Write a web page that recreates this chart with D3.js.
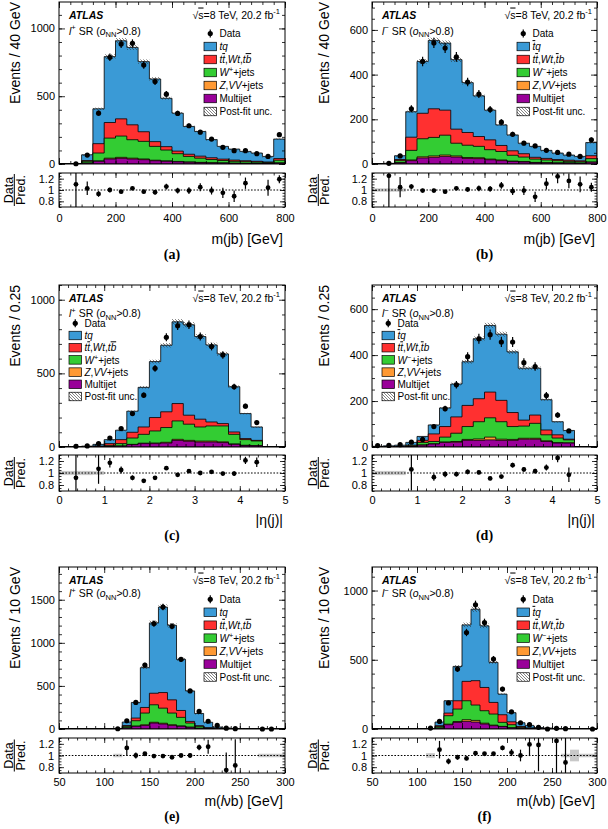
<!DOCTYPE html>
<html><head><meta charset="utf-8">
<script src="https://cdn.jsdelivr.net/npm/d3@7"></script>
<style>body{margin:0;background:#fff}svg{display:block}</style>
</head><body><svg id="c" width="608" height="829"></svg>
<script>
// ---------- bin edges / ticks ----------
const mEdges = [0,40,80,120,160,200,240,280,320,360,400,440,480,520,560,600,640,680,720,760,800];
const etaEdges = [0,0.25,0.5,0.75,1,1.25,1.5,1.75,2,2.25,2.5,2.75,3,3.25,3.5,3.75,4,4.25,4.5,4.75,5];
const mlvbEdges = [50,60,70,80,90,100,110,120,130,140,150,160,170,180,190,200,210,220,230,240,250,260,270,280,290,300];
const mTicks = [0,200,400,600,800];
const etaTicks = [0,1,2,3,4,5];
const mlvbTicks = [50,100,150,200,250,300];
const aYTicks = [0,500,1000];
const bYTicks = [0,200,400,600];
const cYTicks = [0,500,1000];
const dYTicks = [0,200,400,600];
const eYTicks = [0,500,1000,1500];
const fYTicks = [0,500,1000];
const ratioTicks = [0.8,1,1.2];
const postFitUnc = 0.022;

// ---------- (a) l+ m(jb) ----------
const aTq = [0,1,43,257,486,576,571,517,462,357,280,205,182,134,94,81,69,61,41,144];
const aTt = [0,0,5,69,115,127,110,71,35,25,19,16,15,13,10,9,7,6,4,12];
const aW  = [0,1,13,58,148,157,136,130,102,80,57,41,31,24,18,14,12,9,8,20];
const aZ  = [0,0,1,3,6,7,6,5,4,3,3,2,2,1,1,1,1,1,0,1];
const aMj = [0,0,6,20,37,42,37,32,24,20,16,13,10,8,7,5,4,4,3,7];
const aData = [null,2,66,375,787,885,890,730,608,515,373,282,235,184,123,98,98,76,56,216];
const aRatio = [null,1.1,1.03,0.93,1.0,0.97,1.03,0.97,0.96,1.06,0.99,0.99,1.05,0.99,0.95,0.89,1.12,null,1.04,1.19];
const aRatioErr = [0,0.6,0.12,0.05,0.04,0.03,0.03,0.03,0.04,0.05,0.05,0.06,0.07,0.07,0.09,0.1,0.1,0,0.14,0.07];
const aBand = [0,0,0,0,0,0,0,0,0,0,0,0,0,0,0,0,0,0,0,0];

// ---------- (b) l- m(jb) ----------
const bTq = [0,2,17,114,232,306,300,311,223,182,133,92,71,47,49,36,29,23,20,59];
const bTt = [0,0,5,59,114,128,112,63,57,44,44,27,20,15,8,7,5,5,4,13];
const bW  = [0,1,9,43,81,83,89,57,55,51,42,38,26,20,15,12,10,7,6,15];
const bZ  = [0,0,1,3,5,6,6,5,4,4,3,3,2,2,1,1,1,1,1,1];
const bMj = [0,0,5,15,27,30,34,31,25,24,19,15,11,9,6,5,4,4,3,8];
const bData = [null,3,36,247,459,542,519,479,367,313,244,187,133,93,81,61,52,44,34,108];
const bRatio = [null,1.25,1.05,1.06,0.99,0.99,0.97,1.03,1.01,1.03,1.02,1.08,0.98,0.99,0.88,1.11,1.24,1.16,1.1,1.05];
const bRatioErr = [0,0.6,0.18,0.04,0.03,0.03,0.03,0.03,0.04,0.05,0.05,0.06,0.07,0.08,0.09,0.1,0.12,0.13,0.14,0.08];
const bBand = [0.03,0.03,0.03,0,0,0,0,0,0,0,0,0,0,0,0,0,0,0,0,0];

// ---------- (c) l+ |eta(j)| ----------
const cTq = [0,2,4,12,27,64,143,269,380,452,555,614,561,523,473,307,170,91,0,0];
const cTt = [0,0,1,2,12,27,39,50,91,107,118,61,53,27,16,16,7,4,0,0];
const cW  = [0,1,1,3,7,16,43,60,82,100,125,110,96,103,108,65,38,31,0,0];
const cZ  = [0,0,0,0,1,1,2,3,4,5,7,6,6,6,5,3,2,2,0,0];
const cMj = [0,0,0,1,3,6,16,23,23,27,45,39,34,34,30,18,10,8,0,0];
const cData = [null,5,7,23,61,125,227,352,534,745,823,830,750,682,625,409,277,166,null,null];
const cRatio = [null,0.92,null,1.07,1.17,1.05,0.92,0.87,0.92,1.08,0.97,1.03,1.0,1.02,0.99,0.99,1.21,1.18,null,null];
const cRatioErr = [0,0.45,0,0.25,0.08,0.06,0.04,0.03,0.03,0.03,0.02,0.02,0.02,0.03,0.03,0.04,0.06,0.08,0,0];
const cBand = [0.035,0.035,0.035,0.03,0,0,0,0,0,0,0,0,0,0,0,0,0,0,0,0];

// ---------- (d) l- |eta(j)| ----------
const dTq = [2,3,5,12,17,39,81,143,190,261,290,288,264,226,204,132,57,38,0,0];
const dTt = [0,1,1,3,9,33,46,71,92,100,112,93,61,26,36,21,14,3,0,0];
const dW  = [1,1,1,3,11,10,21,36,56,75,84,76,56,53,65,26,20,13,0,0];
const dZ  = [0,0,0,0,1,1,2,3,4,6,12,5,4,4,4,3,2,1,0,0];
const dMj = [0,0,1,2,8,13,20,21,29,29,31,29,29,34,34,24,17,17,0,0];
const dData = [6,7,10,21,33,89,167,271,393,471,489,457,457,367,350,224,139,70,null,null];
const dRatio = [null,null,null,1.06,null,0.93,0.98,0.98,1.02,1.01,0.91,0.94,1.13,1.06,1.03,1.09,1.25,0.97,null,null];
const dRatioErr = [0,0,0,0.35,0,0.06,0.05,0.04,0.04,0.03,0.03,0.03,0.04,0.04,0.04,0.05,0.07,0.12,0,0];
const dBand = [0.035,0.035,0.035,0,0,0,0,0,0,0,0,0,0,0,0,0,0,0,0,0];

// ---------- (e) l+ m(lvb) ----------
const eTq = [0,0,0,0,0,0,3,41,181,462,816,992,866,593,354,142,63,17,9,3,3,1,1,1,0];
const eTt = [0,0,0,0,0,0,1,9,31,65,134,181,153,80,19,7,4,1,1,1,1,1,0,0,0];
const eW  = [0,0,0,0,0,0,1,18,62,137,203,175,136,99,47,22,6,3,1,1,0,0,0,0,0];
const eZ  = [0,0,0,0,0,0,0,1,3,6,9,9,7,5,3,1,1,0,0,0,0,0,0,0,0];
const eMj = [0,0,0,0,0,0,0,12,31,42,69,58,42,31,19,8,4,2,1,0,0,0,0,0,0];
const eData = [null,null,null,null,null,null,3,96,308,742,1223,1415,1192,808,442,204,90,42,9,4,null,null,0,0,null];
const eRatio = [null,null,null,null,null,null,null,1.13,1.0,1.03,0.99,0.99,0.97,1.0,1.0,1.14,1.15,null,0.75,0.83,null,null,null,null,null];
const eRatioErr = [0,0,0,0,0,0,0,0.13,0.05,0.03,0.02,0.02,0.02,0.03,0.04,0.05,0.12,0,0.3,0.45,0,0,0,0,0];
const eBand = [0,0,0,0,0,0,0.03,0,0,0,0,0,0,0,0,0,0,0,0,0,0,0,0.03,0.03,0.03];

// ---------- (f) l- m(lvb) ----------
const fTq = [0,0,0,0,0,0,1,26,89,248,408,516,445,289,149,66,27,18,6,5,3,1,1,0.5,0.3];
const fTt = [0,0,0,0,0,0,0,7,19,60,140,176,168,84,55,21,8,3,2,1,0,1,0,0,0];
const fW  = [0,0,0,0,0,0,1,10,61,90,137,111,90,80,29,22,6,3,1,1,1,0,0,0,0];
const fZ  = [0,0,0,0,0,0,0,1,4,6,12,12,6,4,2,1,1,0,0,0,0,0,0,0,0];
const fMj = [0,0,0,0,0,0,0,6,31,48,55,50,36,24,17,8,3,2,1,0,0,0,0,0,0];
const fData = [null,null,null,null,null,null,7,55,188,433,697,897,769,505,288,124,45,31,12,0,5,2,null,null,0];
const fRatio = [null,null,null,null,null,null,null,1.1,0.9,0.97,0.95,1.04,1.03,1.03,1.13,1.05,1.0,1.19,1.18,null,1.25,0.88,null,null,null];
const fRatioErr = [0,0,0,0,0,0,0,0.15,0.05,0.04,0.03,0.03,0.03,0.03,0.04,0.06,0.1,0.2,0.45,0,0.6,0.6,0,0,0];
const fBand = [0,0,0,0,0,0,0.04,0,0,0,0,0,0,0,0,0,0,0,0,0,0,0.03,0.1,0.03,0.03];

// ---------- style / layout ----------
const FONT = '"Liberation Sans", Arial, Helvetica, sans-serif';
const colors = {tq:"#3a9ad6", tt:"#ff3030", w:"#33cc33", z:"#ff9933", mj:"#990099"};
const ratioDom = [0.7,1.3];
const rows = [
  {top:2,   mb:164, rt:173, rb:207, labPad:7, xTitleY:243.5, capY:258.5},
  {top:285, mb:447, rt:455, rb:491, labPad:5, xTitleY:524.5, capY:539.5},
  {top:567, mb:729, rt:738, rb:773, labPad:5, xTitleY:806,   capY:821}
];
const cols = [
  {x0:59,  x1:285, yTitleX:19.5, dataX:12.5,  predX:25,  fracX:14.3},
  {x0:372, x1:597, yTitleX:329,  dataX:316.5, predX:329, fracX:318.3}
];

const panels = [
  {id:"a",row:0,col:0,edges:mEdges,xDom:[0,800],xTicks:mTicks,xMinor:40,yMax:1195,yTicks:aYTicks,yMinor:100,
   tq:aTq,tt:aTt,w:aW,z:aZ,mj:aMj,data:aData,ratio:aRatio,rerr:aRatioErr,band:aBand,
   yTitle:"Events / 40 GeV",xTitle:[{t:"m(jb) [GeV]"}],neg:false,legX:145,legY:31.5,legDy:13,srY:32.5,cap:"(a)"},
  {id:"b",row:0,col:1,edges:mEdges,xDom:[0,800],xTicks:mTicks,xMinor:40,yMax:725,yTicks:bYTicks,yMinor:50,
   tq:bTq,tt:bTt,w:bW,z:bZ,mj:bMj,data:bData,ratio:bRatio,rerr:bRatioErr,band:bBand,
   yTitle:"Events / 40 GeV",xTitle:[{t:"m(jb) [GeV]"}],neg:true,legX:145,legY:31.5,legDy:13,srY:32.5,cap:"(b)"},
  {id:"c",row:1,col:0,edges:etaEdges,xDom:[0,5],xTicks:etaTicks,xMinor:0.2,yMax:1100,yTicks:cYTicks,yMinor:100,
   tq:cTq,tt:cTt,w:cW,z:cZ,mj:cMj,data:cData,ratio:cRatio,rerr:cRatioErr,band:cBand,
   yTitle:"Events / 0.25",xTitle:[{t:"|\u03B7(j)|"}],neg:false,legX:10,legY:38.3,legDy:12.2,srY:32,cap:"(c)"},
  {id:"d",row:1,col:1,edges:etaEdges,xDom:[0,5],xTicks:etaTicks,xMinor:0.2,yMax:705,yTicks:dYTicks,yMinor:50,
   tq:dTq,tt:dTt,w:dW,z:dZ,mj:dMj,data:dData,ratio:dRatio,rerr:dRatioErr,band:dBand,
   yTitle:"Events / 0.25",xTitle:[{t:"|\u03B7(j)|"}],neg:true,legX:10,legY:38.3,legDy:12.2,srY:32,cap:"(d)"},
  {id:"e",row:2,col:0,edges:mlvbEdges,xDom:[50,300],xTicks:mlvbTicks,xMinor:10,yMax:1880,yTicks:eYTicks,yMinor:100,
   tq:eTq,tt:eTt,w:eW,z:eZ,mj:eMj,data:eData,ratio:eRatio,rerr:eRatioErr,band:eBand,
   yTitle:"Events / 10 GeV",xTitle:[{t:"m("},{t:"l",i:true},{t:"\u03BDb) [GeV]"}],neg:false,legX:145,legY:32.3,legDy:12.95,srY:30,cap:"(e)"},
  {id:"f",row:2,col:1,edges:mlvbEdges,xDom:[50,300],xTicks:mlvbTicks,xMinor:10,yMax:1170,yTicks:fYTicks,yMinor:100,
   tq:fTq,tt:fTt,w:fW,z:fZ,mj:fMj,data:fData,ratio:fRatio,rerr:fRatioErr,band:fBand,
   yTitle:"Events / 10 GeV",xTitle:[{t:"m("},{t:"l",i:true},{t:"\u03BDb) [GeV]"}],neg:true,legX:145,legY:32.3,legDy:12.95,srY:30,cap:"(f)"}
];

const svg = d3.select("#c").attr("font-family", FONT);
svg.append("rect").attr("width",608).attr("height",829).attr("fill","#fff");
const defs = svg.append("defs");
const pat = defs.append("pattern").attr("id","hatch").attr("patternUnits","userSpaceOnUse").attr("width",3).attr("height",3);
pat.append("path").attr("d","M-1,-1L4,4M-1,2L1,4M2,-1L4,1").attr("stroke","#333").attr("stroke-width",0.6).attr("fill","none");

function rich(t, segs, fs){
  let shift = 0;
  segs.forEach(s=>{
    const ts = t.append("tspan").text(s.t);
    let target = 0;
    if (s.sup){ target = -fs*0.4; ts.attr("font-size", fs*0.72); }
    if (s.sub){ target = fs*0.28; ts.attr("font-size", fs*0.72); }
    if (target !== shift){ ts.attr("dy", target-shift); shift = target; }
    if (s.i) ts.attr("font-style","italic");
    if (s.ov) ts.attr("text-decoration","overline");
  });
  return t;
}

function minorVals(dom, step){
  const out = [];
  for (let k = 0; ; k++){ const v = +(dom[0] + k*step).toFixed(6); if (v > dom[1]+1e-9) break; out.push(v); }
  return out;
}

function drawAxis(gen, scale, vals, size, withLabels, fmt, pad, tx, ty, fs){
  const a = gen(scale).tickValues(vals).tickSize(-size).tickPadding(pad);
  a.tickFormat(withLabels ? fmt : "");
  const g = svg.append("g").attr("transform", `translate(${tx},${ty})`).call(a);
  g.select(".domain").remove();
  g.attr("font-family", FONT).attr("font-size", fs);
  g.selectAll("line").attr("stroke","#000").attr("stroke-width",0.8);
  g.selectAll("text").attr("fill","#000");
  return g;
}

function drawPanel(p){
  const col = cols[p.col], row = rows[p.row];
  const e = p.edges, n = e.length-1;
  const x = d3.scaleLinear().domain(p.xDom).range([col.x0, col.x1]);
  const y = d3.scaleLinear().domain([0, p.yMax]).range([row.mb, row.top]);
  const yr = d3.scaleLinear().domain(ratioDom).range([row.rb, row.rt]);
  const cm = "cm"+p.id, cr = "cr"+p.id;
  defs.append("clipPath").attr("id",cm).append("rect").attr("x",col.x0).attr("y",row.top).attr("width",col.x1-col.x0).attr("height",row.mb-row.top);
  defs.append("clipPath").attr("id",cr).append("rect").attr("x",col.x0).attr("y",row.rt).attr("width",col.x1-col.x0).attr("height",row.rb-row.rt);

  // stack
  const gm = svg.append("g").attr("clip-path",`url(#${cm})`);
  const procs = [{v:p.mj,c:colors.mj},{v:p.z,c:colors.z},{v:p.w,c:colors.w},{v:p.tt,c:colors.tt},{v:p.tq,c:colors.tq}];
  let cum = new Array(n).fill(0); const cums = [];
  procs.forEach(pr=>{ cum = cum.map((c,i)=>c+pr.v[i]); cums.push({vals:cum.slice(), c:pr.c}); });
  const step = vals=>{
    let d = `M${x(e[0])},${y(0)}`;
    for (let i=0;i<n;i++){ d += `L${x(e[i])},${y(vals[i])}L${x(e[i+1])},${y(vals[i])}`; }
    return d + `L${x(e[n])},${y(0)}Z`;
  };
  for (let k=cums.length-1;k>=0;k--){
    gm.append("path").attr("d",step(cums[k].vals)).attr("fill",cums[k].c).attr("stroke","#000").attr("stroke-width",0.8);
  }
  const total = cums[cums.length-1].vals;
  total.forEach((t,i)=>{
    if (t <= 0) return;
    const y1 = y(t*(1+postFitUnc)), y2 = y(t*(1-postFitUnc));
    gm.append("rect").attr("x",x(e[i])).attr("width",x(e[i+1])-x(e[i])).attr("y",y1).attr("height",Math.max(y2-y1,1.5)).attr("fill","url(#hatch)");
  });
  // data
  const gd = svg.append("g");
  p.data.forEach((d,i)=>{
    if (d == null) return;
    const cx = (x(e[i])+x(e[i+1]))/2, s = Math.sqrt(d);
    gd.append("line").attr("x1",cx).attr("x2",cx).attr("y1",y(d+s)).attr("y2",y(Math.max(0,d-s))).attr("stroke","#000").attr("stroke-width",1.2);
    gd.append("circle").attr("cx",cx).attr("cy",y(d)).attr("r",2.6).attr("fill","#000");
  });

  // ratio
  const gr = svg.append("g").attr("clip-path",`url(#${cr})`);
  p.band.forEach((b,i)=>{
    if (!b) return;
    gr.append("rect").attr("x",x(e[i])).attr("width",x(e[i+1])-x(e[i])).attr("y",yr(1+b)).attr("height",yr(1-b)-yr(1+b)).attr("fill","#c8c8c8");
  });
  gr.append("line").attr("x1",col.x0).attr("x2",col.x1).attr("y1",yr(1)).attr("y2",yr(1)).attr("stroke","#000").attr("stroke-width",1).attr("stroke-dasharray","1.6,1.6");
  p.ratio.forEach((r,i)=>{
    if (r == null) return;
    const cx = (x(e[i])+x(e[i+1]))/2, er = p.rerr[i];
    gr.append("line").attr("x1",cx).attr("x2",cx).attr("y1",yr(r+er)).attr("y2",yr(r-er)).attr("stroke","#000").attr("stroke-width",1.2);
    gr.append("circle").attr("cx",cx).attr("cy",yr(r)).attr("r",2.4).attr("fill","#000");
  });

  // axes: main
  const xMinorV = minorVals(p.xDom, p.xMinor);
  drawAxis(d3.axisBottom, x, p.xTicks, 6, false, null, 3, 0, row.mb, 11);
  drawAxis(d3.axisBottom, x, xMinorV, 3, false, null, 3, 0, row.mb, 11);
  drawAxis(d3.axisTop, x, p.xTicks, 6, false, null, 3, 0, row.top, 11);
  drawAxis(d3.axisTop, x, xMinorV, 3, false, null, 3, 0, row.top, 11);
  const yMinorV = minorVals([0,p.yMax], p.yMinor);
  drawAxis(d3.axisLeft, y, p.yTicks, 6, true, d3.format("d"), 4, col.x0, 0, 11);
  drawAxis(d3.axisLeft, y, yMinorV, 3, false, null, 4, col.x0, 0, 11);
  drawAxis(d3.axisRight, y, p.yTicks, 6, false, null, 4, col.x1, 0, 11);
  drawAxis(d3.axisRight, y, yMinorV, 3, false, null, 4, col.x1, 0, 11);
  // axes: ratio
  const fmtX = d=>d3.format("~g")(d);
  drawAxis(d3.axisBottom, x, p.xTicks, 5, true, fmtX, p.row===0?7:5, 0, row.rb, 11);
  drawAxis(d3.axisBottom, x, xMinorV, 2.5, false, null, 3, 0, row.rb, 11);
  drawAxis(d3.axisTop, x, p.xTicks, 5, false, null, 3, 0, row.rt, 11);
  drawAxis(d3.axisTop, x, xMinorV, 2.5, false, null, 3, 0, row.rt, 11);
  const rMinor = minorVals(ratioDom, 0.05);
  const fmtR = d=> d===1 ? "1" : d3.format(".1f")(d);
  drawAxis(d3.axisLeft, yr, ratioTicks, 5, true, fmtR, 5, col.x0, 0, 11);
  drawAxis(d3.axisLeft, yr, rMinor, 2.5, false, null, 5, col.x0, 0, 11);
  drawAxis(d3.axisRight, yr, ratioTicks, 5, false, null, 5, col.x1, 0, 11);
  drawAxis(d3.axisRight, yr, rMinor, 2.5, false, null, 5, col.x1, 0, 11);

  // frames
  svg.append("rect").attr("x",col.x0).attr("y",row.top).attr("width",col.x1-col.x0).attr("height",row.mb-row.top).attr("fill","none").attr("stroke","#000").attr("stroke-width",1);
  svg.append("rect").attr("x",col.x0).attr("y",row.rt).attr("width",col.x1-col.x0).attr("height",row.rb-row.rt).attr("fill","none").attr("stroke","#000").attr("stroke-width",1);

  // titles
  svg.append("text").attr("transform",`translate(${col.yTitleX},${row.top}) rotate(-90)`).attr("text-anchor","end").attr("font-size",14).text(p.yTitle);
  const rc = (row.rt+row.rb)/2;
  svg.append("text").attr("transform",`translate(${col.dataX},${rc}) rotate(-90)`).attr("text-anchor","middle").attr("font-size",12.5).text("Data");
  svg.append("line").attr("x1",col.fracX).attr("x2",col.fracX).attr("y1",rc-16).attr("y2",rc+16).attr("stroke","#000").attr("stroke-width",1);
  svg.append("text").attr("transform",`translate(${col.predX},${rc}) rotate(-90)`).attr("text-anchor","middle").attr("font-size",12.5).text("Pred.");
  rich(svg.append("text").attr("x",col.x1-2).attr("y",row.xTitleY).attr("text-anchor","end").attr("font-size",14), p.xTitle, 14);
  svg.append("text").attr("x",(col.x0+col.x1)/2).attr("y",row.capY).attr("text-anchor","middle").attr("font-family",'"Liberation Serif","Times New Roman",serif').attr("font-weight","bold").attr("font-size",14).text(p.cap);

  // labels inside
  svg.append("text").attr("x",col.x0+10).attr("y",row.top+16.5).attr("font-size",10.5).attr("font-weight","bold").attr("font-style","italic").text("ATLAS");
  rich(svg.append("text").attr("x",col.x1-5).attr("y",row.top+16.5).attr("text-anchor","end").attr("font-size",10.5),
    [{t:"\u221A"},{t:"s",ov:true},{t:"=8 TeV, 20.2 fb"},{t:"-1",sup:true}], 10.5);
  rich(svg.append("text").attr("x",col.x0+10).attr("y",row.top+p.srY).attr("font-size",10.5),
    [{t:"l",i:true},{t:p.neg?"\u2212":"+",sup:true},{t:" SR ("},{t:"o",i:true},{t:"NN",sub:true},{t:">0.8)"}], 10.5);

  // legend
  const lx = col.x0 + p.legX, ly = row.top + p.legY, dy = p.legDy, bw = 12.5, bh = 8.5, fs = 10;
  const entries = [
    {type:"data", segs:[{t:"Data"}]},
    {type:"box", c:colors.tq, segs: p.neg ? [{t:"t",i:true,ov:true},{t:"q",i:true}] : [{t:"tq",i:true}]},
    {type:"box", c:colors.tt, segs: p.neg ? [{t:"t",i:true},{t:"t",i:true,ov:true},{t:","},{t:"Wt",i:true},{t:","},{t:"t",i:true,ov:true},{t:"b",i:true}]
                                          : [{t:"t",i:true},{t:"t",i:true,ov:true},{t:","},{t:"Wt",i:true},{t:","},{t:"t",i:true},{t:"b",i:true,ov:true}]},
    {type:"box", c:colors.w, segs:[{t:"W",i:true},{t:p.neg?"\u2212":"+",sup:true},{t:"+jets"}]},
    {type:"box", c:colors.z, segs:[{t:"Z",i:true},{t:","},{t:"VV",i:true},{t:"+jets"}]},
    {type:"box", c:colors.mj, segs:[{t:"Multijet"}]},
    {type:"box", c:"url(#hatch)", segs:[{t:"Post-fit unc."}]}
  ];
  entries.forEach((en,k)=>{
    const cy = ly + k*dy;
    if (en.type === "data"){
      svg.append("line").attr("x1",lx+bw/2).attr("x2",lx+bw/2).attr("y1",cy-4).attr("y2",cy+4).attr("stroke","#000").attr("stroke-width",1.2);
      svg.append("circle").attr("cx",lx+bw/2).attr("cy",cy).attr("r",2.6).attr("fill","#000");
    } else {
      svg.append("rect").attr("x",lx).attr("y",cy-bh/2).attr("width",bw).attr("height",bh).attr("fill",en.c).attr("stroke","#000").attr("stroke-width",0.7);
    }
    rich(svg.append("text").attr("x",lx+bw+3).attr("y",cy+3.6).attr("font-size",fs), en.segs, fs);
  });
}

panels.forEach(drawPanel);
</script></body></html>
